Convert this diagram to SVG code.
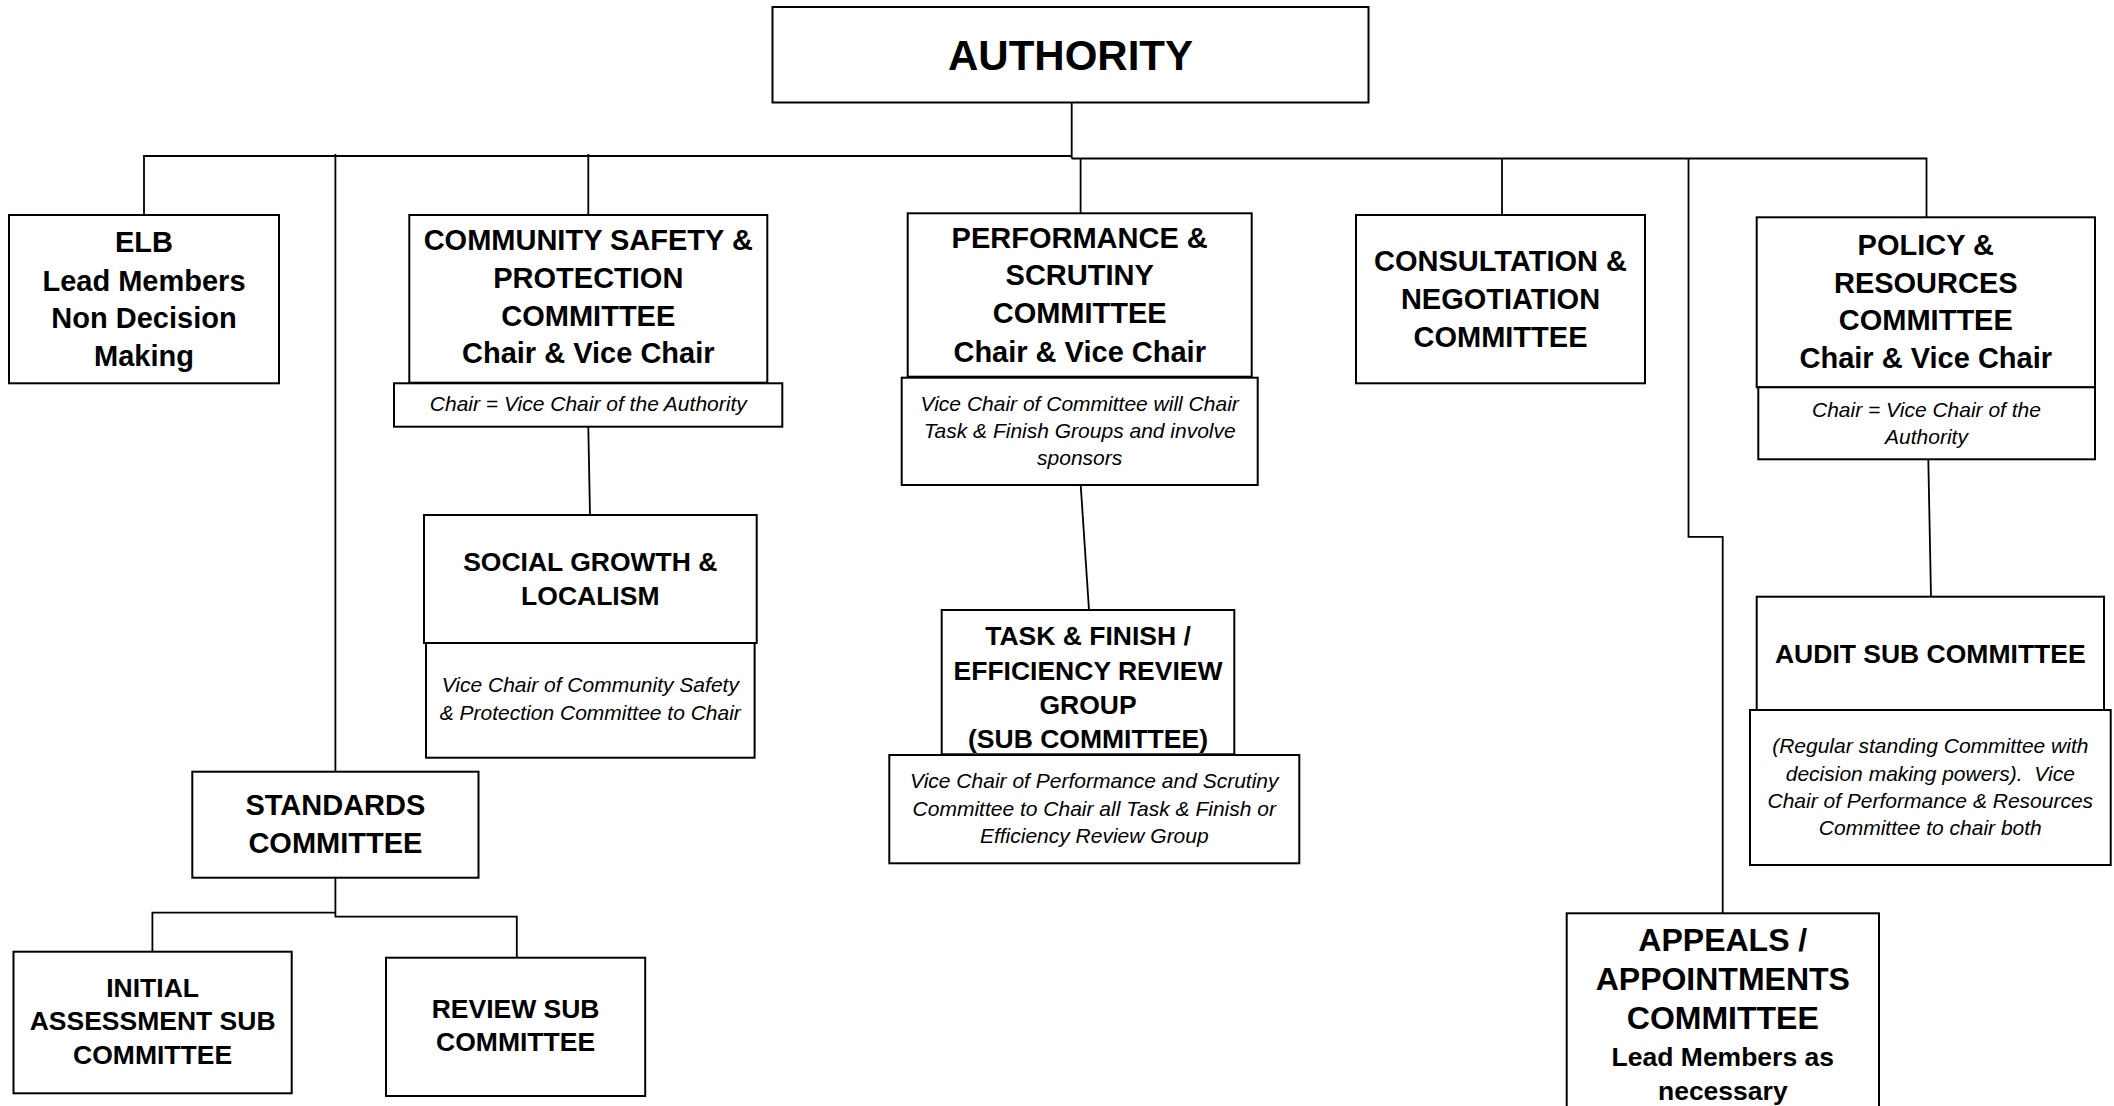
<svg xmlns="http://www.w3.org/2000/svg" width="2114" height="1106" viewBox="0 0 2114 1106">
<style>
  .box { fill: #fff; stroke: #000; stroke-width: 2; }
  .ln { fill: none; stroke: #000; stroke-width: 1.8; }
  .b { font-family: "Liberation Sans", Arial, sans-serif; font-weight: bold; font-size: 29px; text-anchor: middle; fill: #000; }
  .bs { font-family: "Liberation Sans", Arial, sans-serif; font-weight: bold; font-size: 26.5px; text-anchor: middle; fill: #000; }
  .bl { font-family: "Liberation Sans", Arial, sans-serif; font-weight: bold; font-size: 32px; text-anchor: middle; fill: #000; }
  .i { font-family: "Liberation Sans", Arial, sans-serif; font-style: italic; font-size: 21px; text-anchor: middle; fill: #000; }
</style>
<rect width="2114" height="1106" fill="#fff"/>

<g id="connectors">
  <polyline class="ln" points="1071.7,102.5 1071.7,158.5"/>
  <polyline class="ln" points="144,215 144,156 1071.7,156"/>
  <polyline class="ln" points="1071.7,158.5 1926.5,158.5 1926.5,217"/>
  <polyline class="ln" points="335.4,154 335.4,771.7"/>
  <polyline class="ln" points="588.3,154 588.3,215"/>
  <polyline class="ln" points="1080.6,158.5 1080.6,213.3"/>
  <polyline class="ln" points="1502,158.5 1502,215"/>
  <polyline class="ln" points="1688.5,158.5 1688.5,536.8 1722.7,536.8 1722.7,913.3"/>
  <line class="ln" x1="588.3" y1="426.7" x2="590" y2="515"/>
  <line class="ln" x1="1080.7" y1="485" x2="1089" y2="610"/>
  <line class="ln" x1="1928.3" y1="459.3" x2="1931" y2="596.7"/>
  <polyline class="ln" points="335.4,877.7 335.4,916.7 516.8,916.7 516.8,957.7"/>
  <polyline class="ln" points="335.4,912.7 152.4,912.7 152.4,951.7"/>
</g>

<g id="authority">
  <rect class="box" x="772.5" y="7" width="596" height="95.5"/>
  <text class="b" style="font-size:42px" x="1070.5" y="70">AUTHORITY</text>
</g>

<g id="elb">
  <rect class="box" x="9" y="215" width="270" height="168.3"/>
  <text class="b" x="144" y="252.3">ELB</text>
  <text class="b" x="144" y="290.7">Lead Members</text>
  <text class="b" x="144" y="328.3">Non Decision</text>
  <text class="b" x="144" y="366">Making</text>
</g>

<g id="csp">
  <rect class="box" x="409.3" y="215" width="358" height="167.7"/>
  <text class="b" x="588.3" y="250">COMMUNITY SAFETY &amp;</text>
  <text class="b" x="588.3" y="288.3">PROTECTION</text>
  <text class="b" x="588.3" y="326">COMMITTEE</text>
  <text class="b" x="588.3" y="363.3">Chair &amp; Vice Chair</text>
</g>
<g id="csp-note">
  <rect class="box" x="394" y="383.3" width="388.3" height="43.4"/>
  <text class="i" x="588.3" y="410.7">Chair = Vice Chair of the Authority</text>
</g>

<g id="social">
  <rect class="box" x="424" y="515" width="332.7" height="128"/>
  <text class="bs" x="590.3" y="571">SOCIAL GROWTH &amp;</text>
  <text class="bs" x="590.3" y="605">LOCALISM</text>
</g>
<g id="social-note">
  <rect class="box" x="426" y="643" width="328.6" height="114.7"/>
  <text class="i" x="590.3" y="692">Vice Chair of Community Safety</text>
  <text class="i" x="590.3" y="719.5">&amp; Protection Committee to Chair</text>
</g>

<g id="standards">
  <rect class="box" x="192.3" y="771.7" width="286.2" height="106"/>
  <text class="b" x="335.4" y="815">STANDARDS</text>
  <text class="b" x="335.4" y="852.7">COMMITTEE</text>
</g>

<g id="initial">
  <rect class="box" x="13.5" y="951.7" width="278.2" height="141.6"/>
  <text class="bs" x="152.6" y="996.7">INITIAL</text>
  <text class="bs" x="152.6" y="1030">ASSESSMENT SUB</text>
  <text class="bs" x="152.6" y="1064.3">COMMITTEE</text>
</g>

<g id="review">
  <rect class="box" x="386" y="957.7" width="259.2" height="138.3"/>
  <text class="bs" x="515.6" y="1017.7">REVIEW SUB</text>
  <text class="bs" x="515.6" y="1051">COMMITTEE</text>
</g>

<g id="performance">
  <rect class="box" x="907.7" y="213.3" width="344" height="163.4"/>
  <text class="b" x="1079.7" y="247.7">PERFORMANCE &amp;</text>
  <text class="b" x="1079.7" y="285">SCRUTINY</text>
  <text class="b" x="1079.7" y="323.3">COMMITTEE</text>
  <text class="b" x="1079.7" y="361.7">Chair &amp; Vice Chair</text>
</g>
<g id="performance-note">
  <rect class="box" x="901.7" y="377.7" width="356" height="107.3"/>
  <text class="i" x="1079.7" y="410.7">Vice Chair of Committee will Chair</text>
  <text class="i" x="1079.7" y="438.3">Task &amp; Finish Groups and involve</text>
  <text class="i" x="1079.7" y="465">sponsors</text>
</g>

<g id="task">
  <rect class="box" x="941.7" y="610" width="292.6" height="144.3"/>
  <text class="bs" x="1088" y="645">TASK &amp; FINISH /</text>
  <text class="bs" x="1088" y="679.5">EFFICIENCY REVIEW</text>
  <text class="bs" x="1088" y="714">GROUP</text>
  <text class="bs" x="1088" y="748">(SUB COMMITTEE)</text>
</g>
<g id="task-note">
  <rect class="box" x="889.3" y="755" width="410" height="108.3"/>
  <text class="i" x="1094.3" y="788.3">Vice Chair of Performance and Scrutiny</text>
  <text class="i" x="1094.3" y="816">Committee to Chair all Task &amp; Finish or</text>
  <text class="i" x="1094.3" y="843.3">Efficiency Review Group</text>
</g>

<g id="consultation">
  <rect class="box" x="1356" y="215" width="289" height="168.3"/>
  <text class="b" x="1500.5" y="270.5">CONSULTATION &amp;</text>
  <text class="b" x="1500.5" y="308.5">NEGOTIATION</text>
  <text class="b" x="1500.5" y="346.7">COMMITTEE</text>
</g>

<g id="policy">
  <rect class="box" x="1756.7" y="217.3" width="338.3" height="170"/>
  <text class="b" x="1925.8" y="255">POLICY &amp;</text>
  <text class="b" x="1925.8" y="292.7">RESOURCES</text>
  <text class="b" x="1925.8" y="330">COMMITTEE</text>
  <text class="b" x="1925.8" y="367.7">Chair &amp; Vice Chair</text>
</g>
<g id="policy-note">
  <rect class="box" x="1758.3" y="387.3" width="336.7" height="72"/>
  <text class="i" x="1926.5" y="416.5">Chair = Vice Chair of the</text>
  <text class="i" x="1926.5" y="444">Authority</text>
</g>

<g id="audit">
  <rect class="box" x="1756.7" y="596.7" width="347.3" height="113.3"/>
  <text class="bs" x="1930.3" y="662.7">AUDIT SUB COMMITTEE</text>
</g>
<g id="audit-note">
  <rect class="box" x="1750" y="710" width="360.7" height="155"/>
  <text class="i" x="1930.3" y="753.3">(Regular standing Committee with</text>
  <text class="i" x="1930.3" y="780.5" xml:space="preserve">decision making powers).  Vice</text>
  <text class="i" x="1930.3" y="807.7">Chair of Performance &amp; Resources</text>
  <text class="i" x="1930.3" y="835">Committee to chair both</text>
</g>

<g id="appeals">
  <rect class="box" x="1566.7" y="913.3" width="312.3" height="210"/>
  <text class="bl" x="1722.8" y="951">APPEALS /</text>
  <text class="bl" x="1722.8" y="990">APPOINTMENTS</text>
  <text class="bl" x="1722.8" y="1029">COMMITTEE</text>
  <text class="bs" x="1722.8" y="1065.7">Lead Members as</text>
  <text class="bs" x="1722.8" y="1100">necessary</text>
</g>
</svg>
